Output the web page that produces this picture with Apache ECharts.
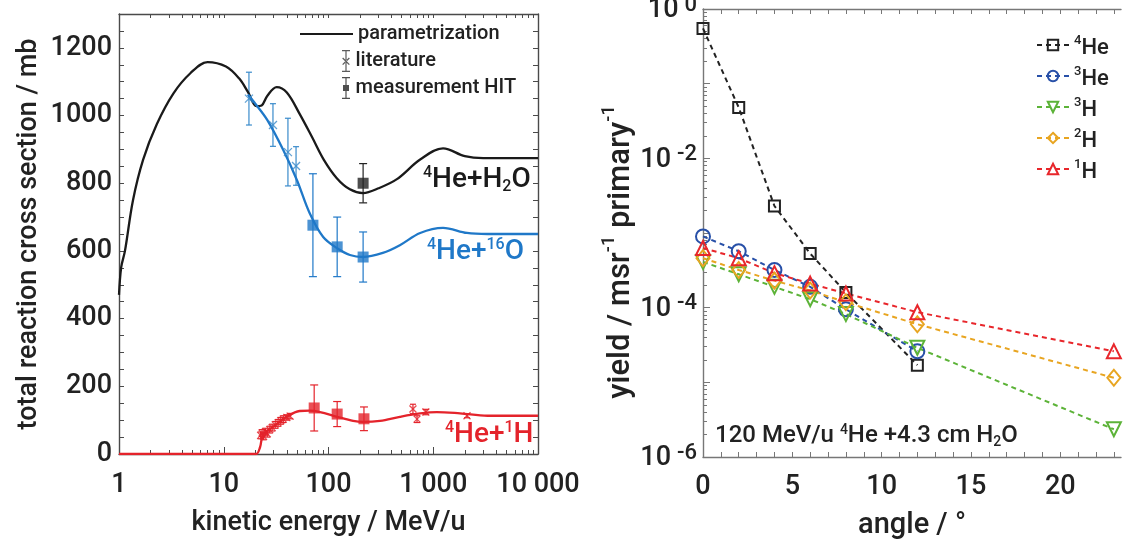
<!DOCTYPE html>
<html>
<head>
<meta charset="utf-8">
<script src="https://cdn.jsdelivr.net/npm/echarts@6/dist/echarts.min.js"></script>
<style>
html, body { margin: 0; padding: 0; background: #fff; }
#main { width: 1124px; height: 544px; }
</style>
</head>
<body>
<div id="main"></div>
<script>
// left panel: total reaction cross sections (energy in MeV/u, sigma in mb)
const energyH2O = [1, 1.05, 1.14, 1.36, 1.7, 2.3, 3.3, 4.8, 7, 10.5, 14, 17, 20.5, 23, 26, 32, 40, 53, 70, 90, 120, 160, 214, 300, 450, 750, 1240, 2000, 3000, 10000];
const sigmaH2O  = [470, 552, 600, 750, 870, 975, 1065, 1125, 1158, 1145, 1110, 1070, 1028, 1030, 1058, 1084, 1068, 1005, 935, 870, 815, 782, 771, 785, 812, 870, 903, 880, 874, 874];
const energyO16 = [17, 20, 26, 37, 50, 66, 89, 121, 160, 214, 330, 480, 750, 1240, 2100, 3300, 10000];
const sigmaO16  = [1062, 1035, 987, 898, 809, 712, 641, 608, 588, 582, 594, 617, 653, 668, 653, 650, 650];
const energyH1  = [1, 10, 20.3, 22.2, 23.7, 29.5, 40, 53, 66, 83, 121, 172, 214, 310, 480, 750, 1080, 1800, 3300, 10000];
const sigmaH1   = [0, 0, 0, 20, 56, 80, 110, 127, 128, 124, 110, 98, 95, 98, 110, 120, 124, 120, 113, 113];

// [energy, sigma, error]
const litO16 = [[17.4, 1050, 78], [29.5, 972, 63], [41, 892, 100], [49, 851, 57]];
const litH1 = [[22.5, 55, 10], [23.2, 62, 10], [24, 52, 10], [25, 66, 10], [26, 60, 10], [27.5, 72, 10], [29, 78, 10],
               [31, 86, 10], [33, 92, 10], [35, 98, 10], [37, 103, 10], [40, 108, 8], [43, 112, 8],
               [640, 133, 14], [700, 103, 10], [850, 124, 8], [2100, 113, 6]];
const hitH2O = [[214, 800, 58]];
const hitO16 = [[71, 676, 152], [121, 612, 88], [214, 582, 74]];
const hitH1  = [[73, 136, 68], [121, 118, 37], [218, 104, 35]];

const sigmaLabels = [0, 200, 400, 600, 800, 1000, 1200];

// right panel: fragment yields per msr and primary
const angles   = [0, 2, 4, 6, 8, 12, 23];
const yieldHe4 = [0.55, 0.048, 0.0023, 5.3e-4, 1.6e-4, 1.7e-5];
const yieldHe3 = [9.0e-4, 5.7e-4, 3.2e-4, 1.9e-4, 9.5e-5, 2.6e-5];
const yieldH3  = [4.1e-4, 2.8e-4, 1.9e-4, 1.3e-4, 8.2e-5, 2.9e-5, 2.35e-6];
const yieldH2  = [4.6e-4, 3.2e-4, 2.3e-4, 1.7e-4, 1.18e-4, 6.0e-5, 1.15e-5];
const yieldH1  = [6.3e-4, 4.6e-4, 2.9e-4, 2.1e-4, 1.55e-4, 8.7e-5, 2.6e-5];
const angleLabels = [0, 5, 10, 15, 20];

const FONT = 'Roboto';
const chart = echarts.init(document.getElementById('main'));

function range(a, b, step) {
  const out = [];
  for (let v = a; v <= b + 1e-9; v += step) out.push(+v.toFixed(6));
  return out;
}
// log-decade minor tick positions, as exponents (for the plain value axes that carry them)
function logMinorExp(e0, e1) {
  const out = [];
  for (let e = e0; e < e1; e++) for (let k = 2; k <= 9; k++) out.push(e + Math.log10(k));
  return out;
}
const pairs = (xs, ys) => ys.map((y, i) => [xs[i], y]);

function errorBars(rows, color, cap) {
  return {
    type: 'custom', xAxisIndex: 0, yAxisIndex: 0, z: 1, silent: true,
    data: rows.map(r => [r[0], r[1] - r[2], r[1] + r[2]]),
    encode: { x: 0, y: [1, 2] },
    renderItem: (params, api) => {
      const lo = api.coord([api.value(0), api.value(1)]);
      const hi = api.coord([api.value(0), api.value(2)]);
      const st = { stroke: color, lineWidth: 1.2 };
      return { type: 'group', children: [
        { type: 'line', shape: { x1: lo[0], y1: lo[1], x2: hi[0], y2: hi[1] }, style: st },
        { type: 'line', shape: { x1: lo[0] - cap, y1: lo[1], x2: lo[0] + cap, y2: lo[1] }, style: st },
        { type: 'line', shape: { x1: hi[0] - cap, y1: hi[1], x2: hi[0] + cap, y2: hi[1] }, style: st }
      ] };
    }
  };
}

const X_MARK = 'path://M0,0L10,10M10,0L0,10';
function points(rows, symbol, size, color, filled) {
  return {
    type: 'scatter', xAxisIndex: 0, yAxisIndex: 0, z: 4, silent: true,
    symbol: symbol, symbolSize: size,
    data: rows.map(r => [r[0], r[1]]),
    itemStyle: filled ? { color: color } : { color: 'rgba(0,0,0,0)', borderColor: color, borderWidth: 1.3 }
  };
}
function curve(name, xs, ys, color) {
  return {
    name: name, type: 'line', xAxisIndex: 0, yAxisIndex: 0, z: 3, silent: true,
    data: pairs(xs, ys), smooth: 0.35, symbol: 'none',
    lineStyle: { color: color, width: 2.3 }, itemStyle: { color: color }
  };
}
function yieldLine(name, ys, color, symbol, size, rotate) {
  return {
    name: name, type: 'line', xAxisIndex: 3, yAxisIndex: 2, silent: true,
    data: pairs(angles, ys), symbol: symbol, symbolSize: size, symbolRotate: rotate || 0,
    lineStyle: { color: color, width: 2, type: [5, 4] },
    itemStyle: { color: 'rgba(0,0,0,0)', borderColor: color, borderWidth: 2 }
  };
}

const tickText = { fontFamily: FONT, fontSize: 27, fontWeight: 500, color: '#222' };
const nameText = { fontFamily: FONT, fontSize: 27, fontWeight: 500, color: '#222' };
const nameTextR = { fontFamily: FONT, fontSize: 29, fontWeight: 500, color: '#222' };
const lineL = { show: true, onZero: false, lineStyle: { color: '#4a4a4a', width: 1.4 } };
const lineR = { show: true, onZero: false, lineStyle: { color: '#777', width: 1.4 } };
const sup = (s) => ({ fontFamily: FONT, fontWeight: 500, color: '#222', fontSize: s, lineHeight: s + 2, verticalAlign: 'top' });
const tickOnly = (extra) => Object.assign({ axisLine: { show: false, onZero: false }, axisLabel: { show: false }, splitLine: { show: false } }, extra);

const option = {
  animation: false,
  backgroundColor: '#fff',
  textStyle: { fontFamily: FONT },
  grid: [
    { left: 119, top: 14, width: 419, height: 440, outerBoundsMode: 'none' },
    { left: 703, top: 9, width: 418, height: 448, outerBoundsMode: 'none' }
  ],
  legend: [
    {
      left: 300, top: 24, padding: 0, orient: 'vertical', itemWidth: 53, itemHeight: 2,
      data: [{ name: 'parametrization', icon: 'rect' }], selectedMode: false,
      textStyle: { fontFamily: FONT, fontSize: 20, fontWeight: 500, color: '#222' }
    },
    {
      left: 342, top: 50, padding: 0, orient: 'vertical', itemWidth: 9, itemHeight: 22, itemGap: 5,
      selectedMode: false,
      data: [
        { name: 'literature', icon: 'path://M5.4,0h1.2v22h-1.2zM2,0h8v1.2h-8zM2,20.8h8v1.2h-8zM2.2,8.4l0.9,-0.9l6.7,6.7l-0.9,0.9zM9.8,8.4l-0.9,-0.9l-6.7,6.7l0.9,0.9z' },
        { name: 'measurement HIT', icon: 'path://M5.4,0h1.2v22h-1.2zM2,0h8v1.2h-8zM2,20.8h8v1.2h-8zM3,8h6v6h-6z' }
      ],
      textStyle: { fontFamily: FONT, fontSize: 20, fontWeight: 500, color: '#222' }
    },
    {
      left: 1036, top: 31, padding: 0, orient: 'vertical', itemWidth: 32, itemHeight: 13, itemGap: 3,
      selectedMode: false,
      data: ['4He', '3He', '3H', '2H', '1H'],
      formatter: (n) => '{s|' + n.match(/\d+/)[0] + '}{b|' + n.replace(/\d+/, '') + '}',
      textStyle: {
        rich: {
          s: sup(13),
          b: { fontFamily: FONT, fontWeight: 500, color: '#222', fontSize: 22, lineHeight: 22, padding: [6, 0, 0, 0] }
        }
      }
    }
  ],
  xAxis: [
    {
      gridIndex: 0, type: 'log', logBase: 10, min: 1, max: 10000, position: 'bottom',
      axisLine: lineL, axisTick: { inside: true, length: 7, lineStyle: { color: '#4a4a4a' } },
      axisLabel: Object.assign({ margin: 18, formatter: v => String(v).replace(/\B(?=(\d{3})+(?!\d))/g, ' ') }, tickText),
      splitLine: { show: false },
      name: 'kinetic energy / MeV/u', nameLocation: 'middle', nameGap: 56, nameTextStyle: nameText
    },
    tickOnly({
      gridIndex: 0, type: 'value', min: 0, max: 4, position: 'bottom',
      axisTick: { inside: true, length: 4, customValues: logMinorExp(0, 4), lineStyle: { color: '#4a4a4a' } }
    }),
    {
      gridIndex: 0, type: 'value', min: 0, max: 4, position: 'top',
      axisLine: lineL, axisLabel: { show: false }, splitLine: { show: false },
      axisTick: { inside: true, length: 4, customValues: logMinorExp(0, 4).concat([1, 2, 3]), lineStyle: { color: '#4a4a4a' } }
    },
    {
      gridIndex: 1, type: 'value', min: 0, max: 23.4, position: 'bottom',
      axisLine: lineR, splitLine: { show: false },
      axisTick: { inside: true, length: 5, customValues: range(0, 23, 1), lineStyle: { color: '#777' } },
      axisLabel: Object.assign({ margin: 17, customValues: angleLabels }, tickText),
      name: 'angle / °', nameLocation: 'middle', nameGap: 54, nameTextStyle: nameTextR
    },
    {
      gridIndex: 1, type: 'value', min: 0, max: 23.4, position: 'top',
      axisLine: lineR, splitLine: { show: false }, axisLabel: { show: false },
      axisTick: { inside: true, length: 5, customValues: range(0, 23, 1), lineStyle: { color: '#777' } }
    }
  ],
  yAxis: [
    {
      gridIndex: 0, type: 'value', min: 0, max: 1300, position: 'left',
      axisLine: lineL, splitLine: { show: false },
      axisTick: { inside: true, length: 5, customValues: range(0, 1300, 50), lineStyle: { color: '#4a4a4a' } },
      axisLabel: Object.assign({ margin: 7, customValues: sigmaLabels, formatter: v => String(v) }, tickText),
      name: 'total reaction cross section / mb', nameLocation: 'middle', nameGap: 76, nameTextStyle: nameText
    },
    {
      gridIndex: 0, type: 'value', min: 0, max: 1300, position: 'right',
      axisLine: lineL, splitLine: { show: false }, axisLabel: { show: false },
      axisTick: { inside: true, length: 5, customValues: range(0, 1300, 50), lineStyle: { color: '#4a4a4a' } }
    },
    {
      gridIndex: 1, type: 'log', logBase: 10, min: 1e-6, max: 1, position: 'left',
      axisLine: lineR, splitLine: { show: false },
      axisTick: { inside: true, length: 7, lineStyle: { color: '#777' } },
      axisLabel: {
        margin: 6,
        formatter: v => {
          const e = Math.round(Math.log10(v));
          return e % 2 === 0 ? '{b|10}{s|' + e + '}' : '';
        },
        rich: {
          b: Object.assign({ lineHeight: 30, padding: [10, 0, 0, 0], verticalAlign: 'bottom' }, tickText),
          s: Object.assign(sup(22), { padding: [0, 0, 0, 6] })
        }
      },
      name: '{b|yield / msr}{s|-1}{b| primary}{e|-1}', nameLocation: 'middle', nameGap: 56,
      nameTextStyle: { rich: {
        b: Object.assign({ lineHeight: 33, padding: [8, 0, 0, 0] }, nameTextR, { fontSize: 31 }),
        s: sup(18),
        e: Object.assign(sup(18), { padding: [0, 38, 0, 0] })
      } }
    },
    tickOnly({
      gridIndex: 1, type: 'value', min: -6, max: 0, position: 'left',
      axisTick: { inside: true, length: 4, customValues: logMinorExp(-6, 0), lineStyle: { color: '#777' } }
    })
  ],
  series: [
    errorBars(litO16, '#3a8bcb', 3),
    errorBars(hitO16, '#1f78c8', 4),
    errorBars(hitH2O, '#222', 4),
    errorBars(litH1, '#e4232b', 3),
    errorBars(hitH1, '#e4232b', 4),
    curve('parametrization', energyH2O, sigmaH2O, '#1a1a1a'),
    curve('He+O', energyO16, sigmaO16, '#1f78c8'),
    curve('He+H', energyH1, sigmaH1, '#e4232b'),
    points(litO16, X_MARK, 8, '#3a8bcb', false),
    points(litH1, X_MARK, 7, '#e4232b', false),
    points(hitO16, 'rect', 11, '#1f78c8', true),
    points(hitH2O, 'rect', 11, '#222', true),
    points(hitH1, 'rect', 11, '#e4232b', true),
    { name: 'literature', type: 'scatter', data: [], itemStyle: { color: '#333' } },
    { name: 'measurement HIT', type: 'scatter', data: [], itemStyle: { color: '#222' } },
    yieldLine('4He', yieldHe4, '#222', 'rect', 11),
    yieldLine('3He', yieldHe3, '#2850a8', 'circle', 14),
    yieldLine('3H', yieldH3, '#5cb338', 'triangle', 14, 180),
    yieldLine('2H', yieldH2, '#e8a521', 'diamond', [13, 16]),
    yieldLine('1H', yieldH1, '#e8262b', 'triangle', 14)
  ],
  graphic: [
    {
      type: 'text', x: 423, y: 180,
      style: {
        text: '{s|4}{b|He+H}{u|2}{b|O}', fill: '#1a1a1a', verticalAlign: 'middle',
        rich: {
          s: sup(16), u: { fontFamily: FONT, fontWeight: 500, fontSize: 16, lineHeight: 18, verticalAlign: 'bottom' },
          b: { fontFamily: FONT, fontWeight: 500, fontSize: 28, lineHeight: 30, padding: [4, 0, 4, 0] }
        }
      }
    },
    {
      type: 'text', x: 427, y: 252,
      style: {
        text: '{s|4}{b|He+}{s|16}{b|O}', fill: '#1f78c8', verticalAlign: 'middle',
        rich: {
          s: Object.assign(sup(16), { color: '#1f78c8' }),
          b: { fontFamily: FONT, fontWeight: 500, fontSize: 28, lineHeight: 30, padding: [4, 0, 4, 0] }
        }
      }
    },
    {
      type: 'text', x: 445, y: 435,
      style: {
        text: '{s|4}{b|He+}{s|1}{b|H}', fill: '#e4232b', verticalAlign: 'middle',
        rich: {
          s: Object.assign(sup(16), { color: '#e4232b' }),
          b: { fontFamily: FONT, fontWeight: 500, fontSize: 28, lineHeight: 30, padding: [4, 0, 4, 0] }
        }
      }
    },
    {
      type: 'text', x: 715, y: 436,
      style: {
        text: '{b|120 MeV/u }{s|4}{b|He +4.3 cm H}{u|2}{b|O}', fill: '#222', verticalAlign: 'middle',
        rich: {
          s: sup(14), u: { fontFamily: FONT, fontWeight: 500, fontSize: 14, lineHeight: 16, verticalAlign: 'bottom' },
          b: { fontFamily: FONT, fontWeight: 500, fontSize: 24, lineHeight: 26, padding: [4, 0, 4, 0] }
        }
      }
    }
  ]
};

chart.setOption(option);
</script>
</body>
</html>
